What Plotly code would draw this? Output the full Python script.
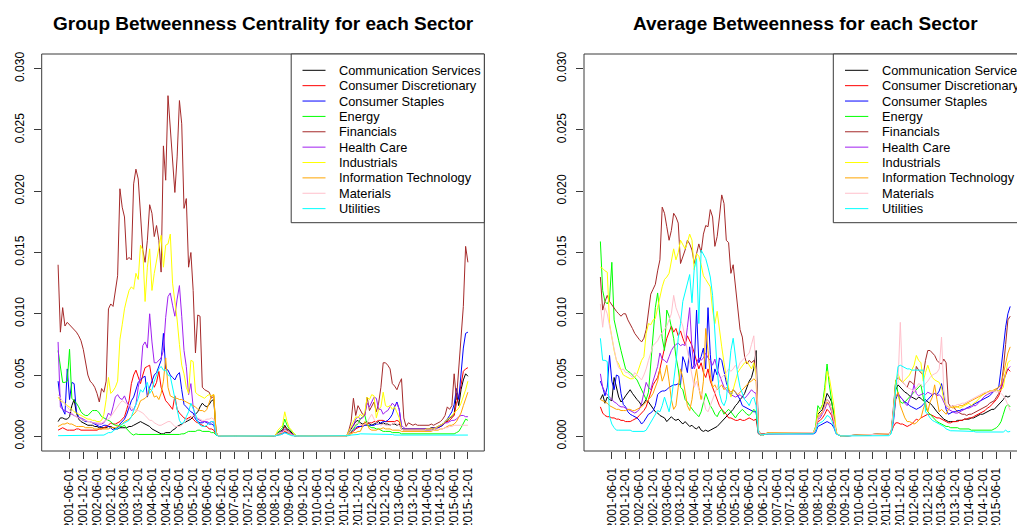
import plotly.graph_objects as go

# Sector names and line colours (R base palette names)
SECTORS = ["Communication Services", "Consumer Discretionary", "Consumer Staples",
           "Energy", "Financials", "Health Care", "Industrials",
           "Information Technology", "Materials", "Utilities"]
COLORS = ["#000000", "#FF0000", "#0000FF", "#00FF00", "#A52A2A",
          "#A020F0", "#FFFF00", "#FFA500", "#FFC0CB", "#00FFFF"]

TICK_LABELS = ["2001-06-01", "2001-12-01", "2002-06-01", "2002-12-01", "2003-06-01",
               "2003-12-01", "2004-06-01", "2004-12-01", "2005-06-01", "2005-12-01",
               "2006-06-01", "2006-12-01", "2007-06-01", "2007-12-01", "2008-06-01",
               "2008-12-01", "2009-06-01", "2009-12-01", "2010-06-01", "2010-12-01",
               "2011-06-01", "2011-12-01", "2012-06-01", "2012-12-01", "2013-06-01",
               "2013-12-01", "2014-06-01", "2014-12-01", "2015-06-01", "2015-12-01"]
Y_TICKS = [0.0, 0.005, 0.010, 0.015, 0.020, 0.025, 0.030]

# Monthly values, Jan 2001 .. Dec 2015, one row per year, in units of 1e-4
SCALE = 1e-4

# ---- Group betweenness centrality ----
grp_comm = [
    12, 15, 15, 14, 14, 16, 25, 30, 19, 14, 12, 11,
    10, 9, 9, 9, 8, 8, 7, 7, 7, 7, 8, 8,
    7, 6, 6, 7, 7, 7, 7, 8, 8, 9, 10, 11,
    12, 11, 10, 9, 8, 6, 5, 4, 3, 2, 2, 3,
    3, 3, 5, 6, 8, 9, 10, 11, 12, 13, 14, 16,
    18, 20, 24, 27, 25, 24, 26, 29, 30, 3, 0.3, 0.2,
    0.2, 0.2, 0.2, 0.2, 0.2, 0.2, 0.2, 0.2, 0.2, 0.2, 0.2, 0.2,
    0.2, 0.2, 0.2, 0.2, 0.2, 0.2, 0.2, 0.2, 0.2, 0.2, 0.2, 1,
    3, 4, 5, 9, 6, 5, 3, 1, 0.4, 0.2, 0.2, 0.2,
    0.2, 0.2, 0.2, 0.2, 0.2, 0.2, 0.2, 0.2, 0.2, 0.2, 0.2, 0.2,
    0.2, 0.2, 0.2, 0.2, 0.2, 0.2, 0.2, 3, 6, 9, 12, 13,
    11, 10, 11, 12, 10, 9, 10, 11, 12, 10, 11, 10,
    10, 9, 10, 10, 9, 10, 6, 6, 6, 6, 6, 6,
    6, 6, 6, 6, 6, 6, 6, 7, 7, 7, 8, 9,
    10, 11, 13, 15, 16, 18, 35, 25, 38, 46, 51, 49,
]
grp_disc = [
    5, 6, 7, 6, 5, 5, 5, 5, 6, 6, 5, 5,
    5, 5, 5, 5, 5, 5, 6, 6, 7, 8, 9, 11,
    10, 10, 11, 12, 14, 16, 22, 29, 43, 50, 54, 49,
    43, 50, 56, 57, 58, 46, 40, 44, 53, 40, 34, 29,
    27, 24, 22, 33, 22, 19, 17, 15, 14, 15, 16, 14,
    12, 11, 10, 9, 8, 8, 6, 6, 5, 1, 0.3, 0.2,
    0.2, 0.2, 0.2, 0.2, 0.2, 0.2, 0.2, 0.2, 0.2, 0.2, 0.2, 0.2,
    0.2, 0.2, 0.2, 0.2, 0.2, 0.2, 0.2, 0.2, 0.2, 0.2, 0.2, 0.5,
    1, 2, 3, 4, 3, 2, 1, 0.5, 0.3, 0.2, 0.2, 0.2,
    0.2, 0.2, 0.2, 0.2, 0.2, 0.2, 0.2, 0.2, 0.2, 0.2, 0.2, 0.2,
    0.2, 0.2, 0.2, 0.2, 0.2, 0.2, 0.2, 2, 3, 4, 6, 7,
    8, 9, 10, 10, 11, 11, 12, 12, 13, 13, 13, 12,
    12, 12, 12, 12, 13, 12, 6, 5, 5, 5, 5, 5,
    5, 5, 5, 5, 5, 5, 5, 6, 6, 6, 7, 8,
    9, 11, 12, 13, 15, 17, 27, 32, 42, 53, 55, 56,
]
grp_stap = [
    45, 29, 22, 18, 55, 30, 44, 43, 20, 16, 14, 13,
    12, 12, 12, 11, 10, 9, 8, 8, 9, 9, 8, 7,
    5, 6, 7, 10, 12, 14, 18, 23, 29, 32, 38, 44,
    46, 48, 49, 32, 40, 45, 50, 52, 57, 62, 84, 55,
    54, 50, 48, 46, 50, 52, 38, 26, 24, 22, 20, 19,
    14, 12, 11, 11, 12, 11, 10, 10, 9, 2, 0.3, 0.2,
    0.2, 0.2, 0.2, 0.2, 0.2, 0.2, 0.2, 0.2, 0.2, 0.2, 0.2, 0.2,
    0.2, 0.2, 0.2, 0.2, 0.2, 0.2, 0.2, 0.2, 0.2, 0.2, 0.2, 0.5,
    1, 2, 2, 3, 3, 2, 1, 0.5, 0.3, 0.2, 0.2, 0.2,
    0.2, 0.2, 0.2, 0.2, 0.2, 0.2, 0.2, 0.2, 0.2, 0.2, 0.2, 0.2,
    0.2, 0.2, 0.2, 0.2, 0.2, 0.2, 0.2, 2, 4, 5, 7, 8,
    8, 8, 9, 9, 9, 9, 9, 10, 10, 11, 12, 12,
    13, 15, 18, 24, 28, 22, 7, 5, 5, 5, 5, 5,
    5, 5, 5, 5, 5, 5, 5, 5, 6, 6, 7, 8,
    9, 12, 14, 17, 20, 26, 39, 30, 55, 72, 84, 85,
]
grp_energy = [
    70, 55, 44, 44, 45, 71, 31, 29, 27, 24, 20, 18,
    17, 17, 19, 21, 21, 21, 19, 16, 15, 14, 13, 12,
    10, 9, 9, 8, 8, 9, 6, 4, 2, 1, 2, 1.5,
    1.5, 1.5, 1.5, 1, 1, 1.5, 1.5, 1.5, 1.5, 1.5, 1.5, 1.5,
    1.5, 1.5, 1.5, 1.5, 1.5, 1.5, 2, 2, 3, 4, 4, 4,
    4, 5, 5, 4, 4, 4, 4, 3, 3, 1, 0.3, 0.2,
    0.2, 0.2, 0.2, 0.2, 0.2, 0.2, 0.2, 0.2, 0.2, 0.2, 0.2, 0.2,
    0.2, 0.2, 0.2, 0.2, 0.2, 0.2, 0.2, 0.2, 0.2, 0.2, 0.2, 1,
    3, 5, 7, 14, 9, 6, 4, 2, 0.5, 0.2, 0.2, 0.2,
    0.2, 0.2, 0.2, 0.2, 0.2, 0.2, 0.2, 0.2, 0.2, 0.2, 0.2, 0.2,
    0.2, 0.2, 0.2, 0.2, 0.2, 0.2, 0.2, 2, 4, 6, 9, 10,
    14, 16, 17, 9, 8, 7, 7, 6, 6, 5, 4, 4,
    4, 4, 3, 3, 3, 3, 2, 2, 2, 2, 2, 2,
    2, 2, 2, 2, 2, 2, 2, 2, 2, 2, 2, 2,
    2, 2, 2, 2, 2, 2, 3, 4, 7, 11, 14, 13,
]
grp_fin = [
    140, 85, 105, 90, 93, 91, 89, 87, 85, 82, 78, 71,
    60, 50, 45, 43, 40, 35, 28, 39, 36, 45, 104, 108,
    106, 120, 131, 202, 187, 179, 144, 146, 144, 206, 218, 210,
    179, 152, 142, 160, 189, 182, 163, 172, 160, 134, 237, 209,
    278, 252, 225, 199, 228, 274, 255, 186, 194, 138, 150, 119,
    68, 99, 98, 40, 38, 37, 36, 31, 33, 3, 0.3, 0.2,
    0.2, 0.2, 0.2, 0.2, 0.2, 0.2, 0.2, 0.2, 0.2, 0.2, 0.2, 0.2,
    0.2, 0.2, 0.2, 0.2, 0.2, 0.2, 0.2, 0.2, 0.2, 0.2, 0.2, 1,
    2, 3, 4, 8, 5, 4, 2, 1, 0.4, 0.2, 0.2, 0.2,
    0.2, 0.2, 0.2, 0.2, 0.2, 0.2, 0.2, 0.2, 0.2, 0.2, 0.2, 0.2,
    0.2, 0.2, 0.2, 0.2, 0.2, 0.2, 0.2, 5, 12, 31, 17, 25,
    22, 18, 17, 32, 21, 24, 28, 20, 27, 40, 60, 60,
    58, 55, 43, 41, 38, 43, 47, 15, 8, 11, 10, 9,
    10, 9, 9, 9, 9, 9, 9, 10, 9, 10, 11, 12,
    14, 17, 24, 22, 25, 51, 30, 55, 80, 106, 155, 142,
]
grp_hc = [
    77, 24, 22, 21, 20, 19, 18, 17, 16, 15, 15, 14,
    13, 12, 12, 11, 11, 10, 10, 10, 11, 14, 19, 17,
    24, 32, 34, 31, 30, 33, 28, 25, 21, 22, 26, 40,
    49, 74, 77, 72, 100, 77, 60, 60, 62, 64, 70, 97,
    114, 117, 107, 98, 112, 123, 98, 70, 57, 34, 43, 24,
    16, 14, 13, 12, 12, 12, 11, 12, 11, 2, 0.3, 0.2,
    0.2, 0.2, 0.2, 0.2, 0.2, 0.2, 0.2, 0.2, 0.2, 0.2, 0.2, 0.2,
    0.2, 0.2, 0.2, 0.2, 0.2, 0.2, 0.2, 0.2, 0.2, 0.2, 0.2, 0.5,
    2, 3, 4, 6, 4, 3, 2, 1, 0.3, 0.2, 0.2, 0.2,
    0.2, 0.2, 0.2, 0.2, 0.2, 0.2, 0.2, 0.2, 0.2, 0.2, 0.2, 0.2,
    0.2, 0.2, 0.2, 0.2, 0.2, 0.2, 0.2, 3, 7, 9, 14, 16,
    14, 15, 18, 27, 24, 28, 32, 31, 22, 22, 18, 20,
    21, 24, 27, 25, 27, 22, 9, 7, 6, 6, 6, 6,
    6, 6, 6, 6, 6, 6, 6, 6, 7, 7, 8, 9,
    10, 11, 11, 12, 13, 13, 14, 16, 17, 17, 16, 16,
]
grp_ind = [
    32, 29, 28, 27, 25, 24, 22, 20, 19, 18, 17, 16,
    15, 14, 14, 13, 13, 12, 12, 13, 18, 30, 48, 35,
    37, 40, 45, 79, 91, 104, 112, 119, 122, 120, 133, 128,
    156, 152, 110, 138, 153, 119, 133, 144, 155, 164, 138, 156,
    157, 165, 125, 112, 95, 75, 58, 51, 40, 35, 62, 61,
    36, 34, 33, 32, 31, 33, 34, 33, 34, 3, 0.3, 0.3,
    0.3, 0.3, 0.3, 0.3, 0.3, 0.3, 0.3, 0.3, 0.3, 0.3, 0.3, 0.3,
    0.3, 0.3, 0.3, 0.3, 0.3, 0.3, 0.3, 0.3, 0.3, 0.3, 0.3, 1,
    5, 7, 9, 20, 12, 7, 5, 2, 0.5, 0.3, 0.3, 0.3,
    0.3, 0.3, 0.3, 0.3, 0.3, 0.3, 0.3, 0.3, 0.3, 0.3, 0.3, 0.3,
    0.3, 0.3, 0.3, 0.3, 0.3, 0.3, 0.3, 4, 8, 12, 16, 15,
    18, 16, 20, 32, 30, 34, 33, 15, 22, 24, 36, 25,
    24, 25, 22, 24, 20, 15, 6, 5, 5, 5, 5, 5,
    5, 5, 5, 5, 5, 6, 6, 6, 6, 7, 8, 9,
    10, 12, 14, 15, 17, 19, 21, 23, 27, 32, 38, 45,
]
grp_it = [
    8, 9, 10, 10, 11, 10, 10, 9, 8, 8, 8, 8,
    7, 7, 7, 7, 6, 6, 6, 6, 6, 6, 6, 7,
    7, 7, 8, 9, 10, 12, 13, 14, 16, 18, 20, 24,
    29, 30, 31, 33, 39, 37, 32, 33, 30, 35, 45, 64,
    40, 33, 32, 31, 31, 30, 30, 29, 28, 27, 26, 25,
    24, 22, 21, 21, 20, 22, 28, 33, 34, 3, 0.3, 0.2,
    0.2, 0.2, 0.2, 0.2, 0.2, 0.2, 0.2, 0.2, 0.2, 0.2, 0.2, 0.2,
    0.2, 0.2, 0.2, 0.2, 0.2, 0.2, 0.2, 0.2, 0.2, 0.2, 0.2, 0.5,
    1, 2, 3, 5, 3, 2, 1, 0.5, 0.3, 0.2, 0.2, 0.2,
    0.2, 0.2, 0.2, 0.2, 0.2, 0.2, 0.2, 0.2, 0.2, 0.2, 0.2, 0.2,
    0.2, 0.2, 0.2, 0.2, 0.2, 0.2, 0.2, 1, 2, 3, 3, 4,
    4, 8, 12, 10, 6, 5, 5, 5, 6, 6, 7, 6,
    6, 6, 5, 5, 5, 5, 4, 4, 4, 4, 4, 4,
    4, 4, 4, 4, 4, 4, 4, 4, 5, 5, 5, 6,
    6, 7, 8, 9, 9, 10, 12, 15, 19, 25, 30, 36,
]
grp_mat = [
    34, 31, 28, 26, 24, 21, 19, 17, 16, 15, 14, 13,
    13, 12, 12, 11, 11, 11, 11, 11, 12, 13, 14, 16,
    19, 22, 25, 27, 29, 28, 26, 25, 24, 22, 21, 21,
    20, 19, 17, 15, 13, 13, 11, 10, 9, 9, 10, 11,
    12, 12, 10, 8, 8, 8, 9, 11, 13, 14, 15, 17,
    16, 15, 14, 13, 13, 14, 14, 15, 14, 2, 0.3, 0.2,
    0.2, 0.2, 0.2, 0.2, 0.2, 0.2, 0.2, 0.2, 0.2, 0.2, 0.2, 0.2,
    0.2, 0.2, 0.2, 0.2, 0.2, 0.2, 0.2, 0.2, 0.2, 0.2, 0.2, 0.5,
    2, 3, 3, 5, 4, 3, 1, 0.5, 0.3, 0.2, 0.2, 0.2,
    0.2, 0.2, 0.2, 0.2, 0.2, 0.2, 0.2, 0.2, 0.2, 0.2, 0.2, 0.2,
    0.2, 0.2, 0.2, 0.2, 0.2, 0.2, 0.2, 2, 5, 8, 10, 11,
    10, 9, 10, 11, 15, 18, 14, 11, 10, 9, 10, 9,
    9, 9, 10, 11, 10, 9, 6, 5, 5, 5, 5, 5,
    5, 5, 5, 5, 5, 5, 5, 5, 5, 6, 6, 6,
    6, 7, 7, 8, 8, 9, 9, 9, 9, 9, 9, 9,
]
grp_util = [
    0.5, 0.5, 0.5, 0.5, 0.5, 0.5, 0.5, 0.5, 0.5, 0.5, 0.5, 0.5,
    0.5, 0.5, 0.5, 0.5, 0.5, 0.5, 0.5, 0.5, 1, 2, 3, 3,
    4, 6, 6, 8, 10, 11, 12, 13, 16, 21, 27, 31,
    38, 36, 40, 44, 35, 38, 45, 50, 55, 57, 54, 54,
    50, 49, 40, 30, 24, 13, 10, 12, 16, 20, 27, 23,
    18, 12, 9, 8, 8, 9, 11, 12, 12, 1, 0.2, 0.2,
    0.2, 0.2, 0.2, 0.2, 0.2, 0.2, 0.2, 0.2, 0.2, 0.2, 0.2, 0.2,
    0.2, 0.2, 0.2, 0.2, 0.2, 0.2, 0.2, 0.2, 0.2, 0.2, 0.2, 0.3,
    1, 1, 2, 3, 2, 1, 0.5, 0.3, 0.2, 0.2, 0.2, 0.2,
    0.2, 0.2, 0.2, 0.2, 0.2, 0.2, 0.2, 0.2, 0.2, 0.2, 0.2, 0.2,
    0.2, 0.2, 0.2, 0.2, 0.2, 0.2, 0.2, 0.5, 1, 1, 1.5, 1.5,
    2, 2, 2, 1.5, 1.5, 1.5, 1.5, 1.5, 1.5, 1.5, 1.5, 1.5,
    1.5, 1.5, 1.5, 1, 1, 1, 1, 1, 1, 1, 1, 1,
    1, 1, 1, 1, 1, 1, 1, 1, 1, 1, 1, 1,
    1, 1, 1, 1, 1, 1, 1, 1, 1, 1, 1, 1,
]

# ---- Average betweenness ----
avg_comm = [
    30, 34, 27, 32, 30, 29, 48, 40, 32, 28, 30, 33,
    36, 38, 35, 32, 30, 28, 25, 27, 30, 28, 25, 22,
    20, 19, 17, 16, 15, 12, 14, 16, 14, 13, 14, 12,
    10, 12, 10, 8, 9, 7, 6, 8, 5, 4, 5, 4,
    5, 6, 7, 8, 10, 12, 14, 16, 18, 20, 22, 25,
    27, 30, 32, 35, 40, 45, 48, 55, 70, 5, 1, 1,
    2, 2.5, 2.5, 2.5, 2.5, 2.5, 2.5, 2.5, 2.5, 2.5, 2.5, 2.5,
    2.5, 2.5, 2.5, 2.5, 2.5, 2.5, 2.5, 2.5, 2.5, 3, 6, 18,
    20, 22, 28, 35, 32, 28, 18, 3, 1, 0.3, 0.3, 0.4,
    0.5, 0.6, 0.7, 0.8, 0.9, 1, 1, 1.1, 1.2, 1.3, 1.4, 1.5,
    1.6, 1.7, 1.8, 1.9, 2, 2, 2.1, 3, 18, 38, 42, 40,
    38, 36, 35, 33, 32, 31, 30, 32, 31, 29, 30, 28,
    27, 25, 22, 20, 18, 16, 14, 13, 12, 12, 12, 12,
    13, 13, 13, 14, 14, 14, 15, 15, 16, 17, 18, 18,
    19, 20, 21, 22, 22, 24, 26, 28, 30, 33, 32, 33,
]
avg_disc = [
    24, 19, 17, 16, 16, 15, 15, 14, 14, 13, 13, 12,
    12, 12, 13, 14, 15, 17, 19, 21, 24, 30, 38, 42,
    45, 48, 55, 65, 72, 80, 85, 90, 85, 88, 82, 86,
    80, 75, 82, 78, 74, 68, 62, 55, 60, 52, 48, 55,
    45, 40, 35, 30, 25, 22, 20, 18, 15, 15, 14, 13,
    13, 14, 13, 13, 14, 15, 14, 13, 14, 2, 1, 1,
    2, 2.5, 2.5, 2.5, 2.5, 2.5, 2.5, 2.5, 2.5, 2.5, 2.5, 2.5,
    2.5, 2.5, 2.5, 2.5, 2.5, 2.5, 2.5, 2.5, 2.5, 3, 5, 12,
    13, 15, 18, 22, 20, 17, 10, 3, 1, 0.3, 0.3, 0.4,
    0.5, 0.6, 0.7, 0.8, 0.9, 1, 1, 1.1, 1.2, 1.3, 1.4, 1.5,
    1.6, 1.7, 1.8, 1.9, 2, 2, 2.1, 3, 8, 11, 11, 10,
    10, 9, 8, 9, 10, 12, 14, 13, 15, 16, 17, 18,
    18, 17, 16, 15, 15, 14, 13, 12, 11, 11, 12, 12,
    12, 13, 13, 14, 14, 15, 15, 16, 17, 18, 19, 20,
    21, 23, 24, 26, 28, 30, 33, 38, 45, 50, 55, 53,
]
avg_stap = [
    45, 40, 33, 40, 66, 45, 38, 50, 49, 35, 26, 24,
    20, 18, 17, 16, 15, 13, 10, 12, 15, 18, 19, 21,
    25, 34, 36, 37, 37, 38, 40, 41, 42, 42, 43, 42,
    65, 60, 52, 73, 55, 58, 103, 60, 65, 72, 55, 105,
    67, 45, 55, 50, 64, 62, 52, 44, 38, 33, 38, 36,
    33, 30, 25, 24, 23, 22, 21, 20, 20, 3, 1, 1,
    2, 2, 2, 2, 2, 2, 2, 2, 2, 2, 2, 2,
    2, 2, 2, 2, 2, 2, 2, 2, 2, 2, 3, 8,
    9, 10, 11, 12, 11, 10, 7, 2, 1, 0.3, 0.3, 0.4,
    0.5, 0.6, 0.7, 0.8, 0.9, 1, 1, 1.1, 1.2, 1.3, 1.4, 1.5,
    1.6, 1.7, 1.8, 1.9, 2, 2, 2.1, 3, 12, 30, 35, 32,
    30, 28, 27, 25, 24, 23, 22, 23, 24, 26, 28, 30,
    32, 34, 35, 34, 37, 43, 33, 22, 18, 19, 20, 20,
    21, 21, 22, 22, 23, 24, 25, 26, 27, 28, 29, 30,
    31, 32, 33, 35, 37, 38, 40, 55, 75, 89, 100, 106,
]
avg_energy = [
    159, 119, 110, 108, 112, 142, 95, 85, 78, 70, 62, 55,
    53, 52, 50, 48, 46, 42, 38, 33, 30, 36, 60, 80,
    105, 117, 100, 80, 70, 103, 98, 88, 80, 65, 55, 40,
    38, 30, 28, 25, 22, 20, 18, 16, 20, 28, 35, 30,
    25, 22, 18, 16, 20, 22, 18, 20, 22, 20, 17, 15,
    18, 20, 22, 20, 18, 17, 19, 22, 20, 3, 1, 1,
    2, 2.5, 2.5, 2.5, 2.5, 2.5, 2.5, 2.5, 2.5, 2.5, 2.5, 2.5,
    2.5, 2.5, 2.5, 2.5, 2.5, 2.5, 2.5, 2.5, 2.5, 3, 8, 25,
    22, 26, 40, 59, 42, 30, 15, 3, 1, 0.3, 0.3, 0.4,
    0.5, 0.6, 0.7, 0.8, 0.9, 1, 1, 1.1, 1.2, 1.3, 1.4, 1.5,
    1.6, 1.7, 1.8, 1.9, 2, 2, 2.1, 3, 20, 46, 35, 28,
    27, 28, 30, 32, 34, 36, 38, 40, 42, 32, 24, 20,
    18, 16, 14, 12, 11, 10, 9, 8, 8, 7, 7, 7,
    7, 6, 6, 6, 6, 6, 5, 5, 5, 5, 5, 5,
    5, 5, 5, 5, 6, 7, 9, 12, 18, 24, 26, 24,
]
avg_fin = [
    130, 103, 110, 115, 110, 107, 104, 102, 100, 98, 100, 100,
    95, 92, 88, 84, 81, 79, 77, 80, 87, 100, 116, 120,
    124, 135, 144, 187, 182, 171, 160, 168, 182, 179, 174, 141,
    146, 152, 160, 157, 152, 141, 149, 157, 150, 165, 172, 171,
    185, 179, 155, 163, 179, 197, 190, 160, 158, 133, 140, 122,
    103, 87, 81, 65, 59, 62, 60, 62, 55, 5, 2, 2,
    2, 2.5, 2.5, 2.5, 2.5, 2.5, 2.5, 2.5, 2.5, 2.5, 2.5, 2.5,
    2.5, 2.5, 2.5, 2.5, 2.5, 2.5, 2.5, 2.5, 2.5, 3, 6, 15,
    17, 20, 25, 30, 28, 22, 14, 3, 1, 0.3, 0.3, 0.4,
    0.5, 0.6, 0.7, 0.8, 0.9, 1, 1, 1.1, 1.2, 1.3, 1.4, 1.5,
    1.6, 1.7, 1.8, 1.9, 2, 2, 2.1, 3, 25, 45, 48, 46,
    44, 42, 40, 45, 44, 42, 57, 54, 52, 50, 62, 70,
    70, 68, 66, 62, 60, 59, 63, 60, 27, 24, 25, 22,
    20, 19, 18, 18, 17, 18, 18, 19, 20, 21, 22, 23,
    24, 25, 27, 28, 29, 32, 35, 40, 55, 75, 95, 98,
]
avg_hc = [
    51, 40, 36, 34, 32, 30, 28, 27, 25, 24, 24, 23,
    22, 21, 20, 19, 20, 22, 27, 35, 44, 40, 38, 45,
    52, 57, 68, 63, 62, 60, 65, 70, 73, 75, 76, 74,
    75, 74, 89, 105, 72, 55, 60, 64, 62, 64, 68, 64,
    62, 58, 63, 55, 50, 45, 40, 38, 36, 34, 33, 32,
    33, 34, 32, 31, 33, 36, 38, 36, 35, 3, 1, 1,
    2, 2.5, 2.5, 2.5, 2.5, 2.5, 2.5, 2.5, 2.5, 2.5, 2.5, 2.5,
    2.5, 2.5, 2.5, 2.5, 2.5, 2.5, 2.5, 2.5, 2.5, 3, 5, 14,
    15, 18, 22, 27, 25, 20, 12, 3, 1, 0.3, 0.3, 0.4,
    0.5, 0.6, 0.7, 0.8, 0.9, 1, 1, 1.1, 1.2, 1.3, 1.4, 1.5,
    1.6, 1.7, 1.8, 1.9, 2, 2, 2.1, 3, 15, 32, 35, 32,
    30, 27, 25, 30, 34, 42, 35, 33, 34, 35, 34, 36,
    35, 34, 35, 33, 34, 32, 28, 24, 22, 21, 20, 19,
    19, 20, 21, 22, 23, 23, 24, 25, 25, 27, 29, 31,
    33, 34, 35, 36, 37, 38, 37, 40, 45, 52, 55, 57,
]
avg_ind = [
    138, 137, 135, 134, 92, 80, 70, 62, 59, 54, 50, 49,
    48, 47, 47, 48, 51, 57, 62, 65, 84, 92, 91, 95,
    96, 105, 115, 122, 128, 130, 133, 144, 153, 144, 150, 160,
    157, 153, 158, 165, 160, 136, 149, 147, 140, 131, 128, 125,
    122, 103, 92, 102, 85, 73, 60, 48, 40, 32, 38, 45,
    52, 55, 58, 60, 61, 58, 55, 60, 50, 5, 1, 1,
    2, 2.5, 2.5, 2.5, 2.5, 2.5, 2.5, 2.5, 2.5, 2.5, 2.5, 2.5,
    2.5, 2.5, 2.5, 2.5, 2.5, 2.5, 2.5, 2.5, 2.5, 3, 7, 20,
    22, 25, 35, 53, 48, 38, 25, 4, 1, 0.3, 0.3, 0.4,
    0.5, 0.6, 0.7, 0.8, 0.9, 1, 1, 1.1, 1.2, 1.3, 1.4, 1.5,
    1.6, 1.7, 1.8, 1.9, 2, 2, 2.1, 3, 20, 45, 51, 46,
    44, 46, 48, 50, 54, 58, 66, 62, 60, 45, 52, 58,
    52, 48, 46, 45, 44, 40, 30, 25, 24, 24, 24, 24,
    24, 23, 24, 25, 26, 27, 25, 27, 28, 30, 32, 34,
    35, 36, 37, 37, 37, 38, 37, 38, 40, 52, 60, 62,
]
avg_it = [
    30, 29, 28, 27, 25, 24, 23, 22, 22, 21, 21, 21,
    22, 22, 21, 21, 22, 23, 24, 26, 28, 30, 32, 35,
    40, 45, 55, 45, 50, 58, 45, 30, 22, 25, 40, 55,
    48, 35, 25, 21, 30, 45, 55, 40, 30, 45, 88, 70,
    50, 40, 42, 38, 40, 42, 38, 40, 38, 36, 38, 36,
    34, 36, 38, 40, 42, 44, 45, 47, 45, 4, 1, 1,
    2, 3, 3, 3, 3, 3, 3, 3, 3, 3, 3, 3,
    3, 3, 3, 3, 3, 3, 3, 3, 3, 3, 6, 16,
    18, 20, 24, 28, 26, 22, 14, 3, 1, 0.3, 0.3, 0.4,
    0.5, 0.6, 0.7, 0.8, 0.9, 1, 1, 1.1, 1.2, 1.3, 1.4, 1.5,
    1.6, 1.7, 1.8, 1.9, 2, 2, 2.1, 3, 15, 32, 36, 25,
    20, 15, 12, 12, 11, 10, 11, 13, 15, 22, 28, 20,
    28, 32, 42, 30, 20, 22, 20, 18, 22, 24, 23, 24,
    24, 25, 25, 26, 27, 28, 29, 30, 31, 32, 33, 34,
    35, 36, 37, 37, 38, 39, 40, 42, 50, 60, 68, 73,
]
avg_mat = [
    108, 89, 105, 100, 90, 80, 70, 62, 56, 54, 55, 52,
    52, 50, 48, 52, 50, 48, 46, 50, 55, 62, 68, 74,
    76, 78, 82, 85, 88, 90, 95, 100, 115, 105, 100, 95,
    90, 80, 70, 60, 48, 40, 45, 38, 35, 30, 22, 20,
    25, 30, 35, 40, 45, 48, 50, 52, 55, 53, 55, 58,
    55, 60, 62, 64, 66, 68, 75, 82, 55, 5, 1, 1,
    2, 2.5, 2.5, 2.5, 2.5, 2.5, 2.5, 2.5, 2.5, 2.5, 2.5, 2.5,
    2.5, 2.5, 2.5, 2.5, 2.5, 2.5, 2.5, 2.5, 2.5, 3, 6, 15,
    17, 19, 24, 30, 27, 22, 13, 3, 1, 0.3, 0.3, 0.4,
    0.5, 0.6, 0.7, 0.8, 0.9, 1, 1, 1.1, 1.2, 1.3, 1.4, 1.5,
    1.6, 1.7, 1.8, 1.9, 2, 2, 2.1, 3, 20, 40, 44, 93,
    44, 42, 40, 39, 38, 36, 40, 43, 42, 40, 43, 45,
    48, 50, 51, 52, 55, 81, 38, 26, 24, 24, 25, 25,
    26, 26, 27, 27, 28, 29, 30, 31, 32, 33, 34, 35,
    36, 36, 36, 37, 37, 36, 37, 35, 33, 30, 26, 21,
]
avg_util = [
    80, 62, 62, 61, 16, 10, 7, 5, 5, 5, 5, 5,
    5, 5, 4, 4, 4, 4, 4, 4, 5, 8, 11, 14,
    17, 21, 20, 25, 32, 25, 20, 30, 45, 60, 80, 92,
    110, 118, 125, 132, 109, 137, 145, 92, 152, 148, 145, 138,
    130, 115, 80, 55, 35, 28, 25, 30, 50, 70, 80, 65,
    50, 40, 35, 30, 28, 25, 30, 32, 25, 3, 1, 1,
    1.5, 2, 2, 2, 2, 2, 2, 2, 2, 2, 2, 2,
    2, 2, 2, 2, 2, 2, 2, 2, 2, 2, 4, 10,
    11, 12, 14, 17, 16, 13, 8, 2, 1, 0.3, 0.3, 0.3,
    0.3, 0.3, 0.3, 0.3, 0.3, 0.3, 0.3, 0.3, 0.3, 0.3, 0.3, 0.4,
    0.4, 0.4, 0.4, 0.4, 0.5, 0.5, 0.5, 2, 15, 40, 57, 58,
    57, 56, 55, 55, 54, 54, 54, 54, 54, 54, 20, 18,
    15, 13, 12, 11, 10, 9, 8, 6, 5, 4.5, 4.5, 4.5,
    4.5, 4.5, 4.5, 4.5, 4.5, 4, 4, 4, 3.5, 3.5, 3.5, 3.5,
    3.5, 3.5, 3.5, 3.5, 3.5, 3.5, 3.5, 3.5, 3.5, 5, 3.5, 4,
]

GROUP_SERIES = [grp_comm, grp_disc, grp_stap, grp_energy, grp_fin,
                grp_hc, grp_ind, grp_it, grp_mat, grp_util]
AVERAGE_SERIES = [avg_comm, avg_disc, avg_stap, avg_energy, avg_fin,
                  avg_hc, avg_ind, avg_it, avg_mat, avg_util]

# ---------------------------------------------------------------------------
W, H = 1017, 525
FONT = "Liberation Sans, Arial, Helvetica, sans-serif"
FRAME = "#3a3a3a"

months = list(range(1, 181))
tick_pos = [(int(s[:4]) - 2001) * 12 + int(s[5:7]) for s in TICK_LABELS]
x_pad = (months[-1] - months[0]) * 0.04
y_pad = (Y_TICKS[-1] - Y_TICKS[0]) * 0.04


def px(x):
    return x / W


def py(y):
    return 1 - y / H


# panel geometry (pixels)
LEFT_X0, LEFT_X1 = 41.7, 484.3
RIGHT_X0 = 584.0
PLOT_TOP, PLOT_BOTTOM = 54.0, 451.0
units_per_px = (months[-1] - months[0] + 2 * x_pad) / (LEFT_X1 - LEFT_X0)
right_x_max = months[0] - x_pad + (W - RIGHT_X0) * units_per_px
right_frame_end = (LEFT_X1 - LEFT_X0) / (W - RIGHT_X0)

fig = go.Figure()
for name, color, ys in zip(SECTORS, COLORS, GROUP_SERIES):
    fig.add_trace(go.Scatter(x=months, y=[v * SCALE for v in ys], mode="lines",
                             name=name, line=dict(color=color, width=1),
                             xaxis="x", yaxis="y", showlegend=False,
                             hoverinfo="skip"))
for name, color, ys in zip(SECTORS, COLORS, AVERAGE_SERIES):
    fig.add_trace(go.Scatter(x=months, y=[v * SCALE for v in ys], mode="lines",
                             name=name, line=dict(color=color, width=1),
                             xaxis="x2", yaxis="y2", showlegend=False,
                             hoverinfo="skip"))

xaxis_common = dict(
    tickmode="array", tickvals=tick_pos, ticktext=TICK_LABELS, tickangle=-90,
    ticks="outside", ticklen=7, tickwidth=1, tickcolor=FRAME,
    showgrid=False, zeroline=False, showline=False,
    tickfont=dict(family=FONT, size=12, color="#000000"),
    ticklabelstandoff=4, fixedrange=True,
)
yaxis_common = dict(
    tickmode="array", tickvals=Y_TICKS, ticktext=[f"{v:.3f}" for v in Y_TICKS],
    tickangle=-90, range=[Y_TICKS[0] - y_pad, Y_TICKS[-1] + y_pad],
    ticks="outside", ticklen=7, tickwidth=1, tickcolor=FRAME,
    showgrid=False, zeroline=False, showline=False,
    tickfont=dict(family=FONT, size=12, color="#000000"),
    ticklabelstandoff=5,
    domain=[py(PLOT_BOTTOM), py(PLOT_TOP)], fixedrange=True,
)

fig.update_layout(
    width=W, height=H,
    margin=dict(l=0, r=0, t=0, b=0, pad=0, autoexpand=False),
    paper_bgcolor="white", plot_bgcolor="white",
    font=dict(family=FONT, color="#000000"),
    showlegend=False,
    xaxis=dict(domain=[px(LEFT_X0), px(LEFT_X1)],
               range=[months[0] - x_pad, months[-1] + x_pad],
               anchor="y", **xaxis_common),
    yaxis=dict(anchor="x", **yaxis_common),
    xaxis2=dict(domain=[px(RIGHT_X0), 1.0],
                range=[months[0] - x_pad, right_x_max],
                anchor="y2", **xaxis_common),
    yaxis2=dict(anchor="x2", **yaxis_common),
)

shapes = [
    dict(type="rect", xref="x domain", yref="y domain", x0=0, x1=1, y0=0, y1=1,
         line=dict(color=FRAME, width=1), layer="above"),
    dict(type="rect", xref="x2 domain", yref="y2 domain", x0=0, x1=right_frame_end,
         y0=0, y1=1, line=dict(color=FRAME, width=1), layer="above"),
]
annotations = []

# panel titles
TITLES = [("Group Betweenness Centrality for each Sector", (LEFT_X0 + LEFT_X1) / 2),
          ("Average Betweenness for each Sector",
           RIGHT_X0 + (LEFT_X1 - LEFT_X0) / 2)]
for text, cx in TITLES:
    annotations.append(dict(text=f"<b>{text}</b>", x=px(cx), y=py(24),
                            xref="paper", yref="paper", showarrow=False,
                            xanchor="center", yanchor="middle",
                            font=dict(family=FONT, size=19, color="#000000")))

# legends (one boxed key per panel, in the top-right corner)
ROW0, ROW_STEP = 70.3, 15.37
LEGEND_BOTTOM = 222.7
for box_x0, box_x1, line_x0, line_x1, text_x in [
        (291.2, LEFT_X1, 302.5, 325.5, 336.7),
        (833.3, RIGHT_X0 + (LEFT_X1 - LEFT_X0), 845.0, 868.3, 879.7)]:
    shapes.append(dict(type="rect", xref="paper", yref="paper",
                       x0=px(box_x0), x1=px(box_x1), y0=py(LEGEND_BOTTOM), y1=py(PLOT_TOP),
                       line=dict(color=FRAME, width=1), fillcolor="white", layer="above"))
    for k, (name, color) in enumerate(zip(SECTORS, COLORS)):
        yk = ROW0 + k * ROW_STEP
        shapes.append(dict(type="line", xref="paper", yref="paper",
                           x0=px(line_x0), x1=px(line_x1), y0=py(yk), y1=py(yk),
                           line=dict(color=color, width=1), layer="above"))
        annotations.append(dict(text=name, x=px(text_x), y=py(yk),
                                xref="paper", yref="paper", showarrow=False,
                                xanchor="left", yanchor="middle",
                                font=dict(family=FONT, size=12.8, color="#000000")))

fig.update_layout(shapes=shapes, annotations=annotations)
fig.write_html("out.html", config={"displayModeBar": False})
